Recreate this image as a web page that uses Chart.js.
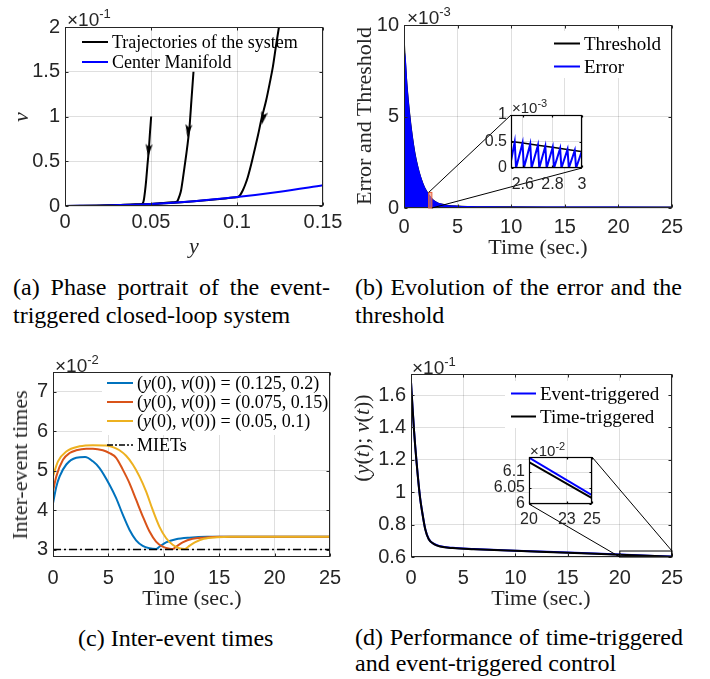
<!DOCTYPE html>
<html>
<head>
<meta charset="utf-8">
<title>Event-triggered control figures</title>
<script src="https://cdn.jsdelivr.net/npm/chart.js@4.4.1/dist/chart.umd.min.js"></script>
<style>
  html, body { margin: 0; padding: 0; background: #fff; }
  body { position: relative; width: 710px; height: 679px; overflow: hidden; }
  canvas { position: absolute; }
  .inset { z-index: 2; }
  .t { position: absolute; white-space: nowrap; font-family: "Liberation Serif", serif; color: #262626; font-size: 22px; line-height: 1; transform: translate(-50%, -50%); z-index: 4; }
  .t.rot { transform: translate(-50%, -50%) rotate(-90deg); }
  .exp { position: absolute; white-space: nowrap; font-family: "Liberation Sans", sans-serif; color: #262626; font-size: 19px; line-height: 1; transform: translateY(-50%); z-index: 4; }
  .exp sup { font-size: 13px; vertical-align: 8px; }
  .exp.small { font-size: 15px; }
  .exp.small sup { font-size: 11px; vertical-align: 6px; }
  .legbox { position: absolute; background: #fff; z-index: 3; }
  .row { position: absolute; display: flex; align-items: center; white-space: nowrap; font-family: "Liberation Serif", serif; font-size: 19px; line-height: 1; color: #000; transform: translateY(-50%); z-index: 4; }
  .row svg { margin-right: 2px; }
  .cap { position: absolute; white-space: nowrap; font-family: "Liberation Serif", serif; font-size: 24px; line-height: 1; color: #000; transform: translateY(-50%); }
  .just { text-align: justify; text-align-last: justify; white-space: normal; }
</style>
</head>
<body>
<canvas id="cA"></canvas>
<canvas id="cB"></canvas>
<canvas id="cC"></canvas>
<canvas id="cD"></canvas>
<canvas id="cIB" class="inset"></canvas>
<canvas id="cID" class="inset"></canvas>

<!-- (a) -->
<div class="exp" style="left:67px;top:18px">&times;10<sup>-1</sup></div>
<div class="t rot" style="left:21px;top:117px"><i>v</i></div>
<div class="t" style="left:194px;top:246px"><i>y</i></div>
<div class="row" style="left:82px;top:42px;font-size:18px"><svg width="28" height="6"><line x1="0" y1="3" x2="26" y2="3" stroke="#000" stroke-width="2"/></svg>Trajectories of the system</div>
<div class="row" style="left:82px;top:62px;font-size:18px"><svg width="28" height="6"><line x1="0" y1="3" x2="26" y2="3" stroke="#0000ff" stroke-width="2"/></svg>Center Manifold</div>
<div class="cap just" style="left:13px;top:287px;width:317px">(a) Phase portrait of the event-</div>
<div class="cap" style="left:13px;top:315px">triggered closed-loop system</div>

<!-- (b) -->
<div class="exp" style="left:407px;top:16px">&times;10<sup>-3</sup></div>
<div class="t rot" style="left:364px;top:116px">Error and Threshold</div>
<div class="t" style="left:538px;top:247px">Time (sec.)</div>
<div class="exp small" style="left:512px;top:106px">&times;10<sup>-3</sup></div>
<div class="legbox" style="left:547px;top:31px;width:121px;height:47px"></div>
<div class="row" style="left:554px;top:43px"><svg width="28" height="6"><line x1="0" y1="3" x2="26" y2="3" stroke="#000" stroke-width="2"/></svg>Threshold</div>
<div class="row" style="left:554px;top:66px"><svg width="28" height="6"><line x1="0" y1="3" x2="26" y2="3" stroke="#0000ff" stroke-width="2"/></svg>Error</div>
<div class="cap just" style="left:355px;top:287px;width:327px">(b) Evolution of the error and the</div>
<div class="cap" style="left:355px;top:315px">threshold</div>

<!-- (c) -->
<div class="exp" style="left:55px;top:364px">&times;10<sup>-2</sup></div>
<div class="t rot" style="left:20px;top:465px">Inter-event times</div>
<div class="t" style="left:192px;top:598px">Time (sec.)</div>
<div class="legbox" style="left:102px;top:373px;width:227px;height:62px"></div>
<div class="row" style="left:107px;top:383px;font-size:18px"><svg width="28" height="6"><line x1="0" y1="3" x2="26" y2="3" stroke="#0072BD" stroke-width="2"/></svg>(<i>y</i>(0),&nbsp;<i>v</i>(0)) = (0.125,&nbsp;0.2)</div>
<div class="row" style="left:107px;top:402px;font-size:18px"><svg width="28" height="6"><line x1="0" y1="3" x2="26" y2="3" stroke="#D95319" stroke-width="2"/></svg>(<i>y</i>(0),&nbsp;<i>v</i>(0)) = (0.075,&nbsp;0.15)</div>
<div class="row" style="left:107px;top:421px;font-size:18px"><svg width="28" height="6"><line x1="0" y1="3" x2="26" y2="3" stroke="#EDB120" stroke-width="2"/></svg>(<i>y</i>(0),&nbsp;<i>v</i>(0)) = (0.05,&nbsp;0.1)</div>
<div class="row" style="left:107px;top:445px;font-size:18px"><svg width="28" height="6"><line x1="0" y1="3" x2="26" y2="3" stroke="#000" stroke-width="1.5" stroke-dasharray="6,2,2,2"/></svg>MIETs</div>
<div class="cap" style="left:78px;top:638px">(c) Inter-event times</div>

<!-- (d) -->
<div class="exp" style="left:412px;top:366px">&times;10<sup>-1</sup></div>
<div class="t rot" style="left:362px;top:438px">(<i>y</i>(<i>t</i>);&nbsp;<i>v</i>(<i>t</i>))</div>
<div class="t" style="left:541px;top:598px">Time (sec.)</div>
<div class="exp small" style="left:530px;top:449px">&times;10<sup>-2</sup></div>
<div class="legbox" style="left:505px;top:381px;width:163px;height:47px"></div>
<div class="row" style="left:511px;top:393px"><svg width="27" height="6"><line x1="0" y1="3" x2="25" y2="3" stroke="#0000ff" stroke-width="2"/></svg>Event-triggered</div>
<div class="row" style="left:511px;top:416px"><svg width="27" height="6"><line x1="0" y1="3" x2="25" y2="3" stroke="#000" stroke-width="2"/></svg>Time-triggered</div>
<div class="cap just" style="left:355px;top:637px;width:328px">(d) Performance of time-triggered</div>
<div class="cap" style="left:355px;top:663px">and event-triggered control</div>

<script>
// ---------------- data ----------------
// (a) phase portrait (v axis shown in units of 1e-1)
const manifoldY = [0, 0.025, 0.05, 0.075, 0.1, 0.125, 0.15];
const manifoldV = [0, 0.006, 0.022, 0.053, 0.1, 0.16, 0.232];
const traj1Y = [0.0501, 0.0494, 0.0487, 0.0479, 0.0472, 0.0465, 0.0458, 0.0452, 0.0442, 0.04, 0.03, 0.02, 0.01, 0];
const traj1V = [1.0, 0.82, 0.62, 0.45, 0.29, 0.16, 0.064, 0.03, 0.021, 0.017, 0.009, 0.004, 0.001, 0];
const traj2Y = [0.0747, 0.0735, 0.0724, 0.071, 0.0695, 0.0685, 0.0675, 0.0665, 0.0656, 0.065, 0.063, 0.06, 0.055, 0.05, 0.04, 0.02, 0];
const traj2V = [1.5, 1.18, 0.886, 0.65, 0.437, 0.3, 0.176, 0.11, 0.064, 0.048, 0.042, 0.038, 0.03, 0.023, 0.015, 0.004, 0];
const traj3Y = [0.1244, 0.1226, 0.1209, 0.119, 0.117, 0.1141, 0.1122, 0.1102, 0.1083, 0.1063, 0.1048, 0.1034, 0.1019, 0.1005, 0.098, 0.09, 0.075, 0.05, 0.025, 0];
const traj3V = [2.0, 1.78, 1.56, 1.37, 1.185, 0.961, 0.79, 0.624, 0.47, 0.325, 0.24, 0.176, 0.125, 0.1, 0.094, 0.078, 0.053, 0.022, 0.006, 0];
const arrowY = [0.0486, 0.0716, 0.1152];
const arrowV = [0.62, 0.84, 0.98];
const ticksAx = [0, 0.05, 0.1, 0.15];
const ticksAy = [0, 0.5, 1, 1.5, 2];

// (b) error and threshold (units of 1e-3)
const timeB = [0, 0.05, 0.25, 0.5, 0.75, 1, 1.25, 1.5, 1.75, 2, 2.5, 3, 3.5, 4, 5, 6, 8, 10, 15, 20, 25];
const thresholdB = [9.2, 8.6, 6.8, 5.2, 3.95, 3.0, 2.3, 1.75, 1.33, 1.0, 0.55, 0.31, 0.2, 0.14, 0.09, 0.07, 0.055, 0.05, 0.045, 0.04, 0.035];
const errorPeakB = [8.5, 8.5, 6.7, 5.1, 3.9, 2.95, 2.27, 1.73, 1.31, 0.99, 0.54, 0.3, 0.19, 0.13, 0.085, 0.065, 0.05, 0.045, 0.04, 0.035, 0.03];
const zoomBoxB = [2.3, 2.6, 0, 0.85];
const ticksBx = [0, 5, 10, 15, 20, 25];
const ticksBy = [0, 5, 10];
// (b) inset
const insetTimeB = [2.52, 2.6, 2.7, 2.8, 2.9, 3.0];
const insetThresholdB = [0.5, 0.47, 0.43, 0.39, 0.35, 0.31];
const insetErrT = [2.52, 2.545, 2.554, 2.598, 2.607, 2.65, 2.659, 2.702, 2.711, 2.752, 2.761, 2.802, 2.811, 2.852, 2.861, 2.902, 2.911, 2.951, 2.96, 2.998];
const insetErrV = [0.13, 0.49, 0, 0.47, 0, 0.45, 0, 0.43, 0, 0.41, 0, 0.39, 0, 0.37, 0, 0.35, 0, 0.33, 0, 0.31];
const ticksIBx = [2.6, 2.8, 3];
const ticksIBy = [0, 0.5, 1];

// (c) inter-event times (units of 1e-2)
const timeC1 = [0, 0.3, 0.6, 1.2, 2.1, 2.9, 3.6, 4.2, 5.1, 5.7, 6.3, 6.9, 7.5, 8.1, 8.7, 9.3, 9.6, 10.2, 11.1, 12.3, 13.9, 25];
const iet1 = [4.18, 4.6, 4.86, 5.16, 5.33, 5.35, 5.24, 5.07, 4.65, 4.31, 3.89, 3.51, 3.24, 3.1, 3.04, 3.02, 3.08, 3.19, 3.27, 3.31, 3.33, 3.33];
const timeC2 = [0, 0.3, 0.9, 1.5, 2.1, 3.0, 3.6, 4.5, 5.1, 5.7, 6.3, 6.9, 7.5, 8.1, 8.7, 9.3, 9.9, 10.5, 10.8, 11.1, 11.7, 12.6, 13.6, 15, 25];
const iet2 = [4.48, 4.86, 5.28, 5.45, 5.52, 5.56, 5.56, 5.52, 5.45, 5.33, 5.03, 4.69, 4.27, 3.85, 3.47, 3.21, 3.08, 3.03, 3.02, 3.08, 3.19, 3.28, 3.31, 3.33, 3.33];
const timeC3 = [0, 0.45, 1.2, 2.4, 3.6, 4.8, 5.4, 6.0, 6.6, 7.2, 7.8, 8.4, 9.0, 9.6, 10.2, 10.8, 11.4, 11.9, 12.2, 12.8, 13.6, 14.8, 16, 25];
const iet3 = [4.86, 5.24, 5.49, 5.62, 5.65, 5.64, 5.6, 5.52, 5.38, 5.16, 4.86, 4.48, 4.01, 3.59, 3.3, 3.13, 3.04, 3.02, 3.08, 3.19, 3.28, 3.32, 3.33, 3.33];
const mietT = [0, 25];
const mietV = [3.01, 3.01];
const ticksCx = [0, 5, 10, 15, 20, 25];
const ticksCy = [3, 4, 5, 6, 7];

// (d) performance (units of 1e-1)
const timeD = [0, 0.15, 0.29, 0.54, 0.86, 1.09, 1.37, 1.7, 2.2, 2.8, 4, 6, 10, 15, 20, 25];
const eventTrigD = [1.68, 1.521, 1.381, 1.181, 0.971, 0.871, 0.771, 0.711, 0.681, 0.6665, 0.6565, 0.6495, 0.6393, 0.6283, 0.6147, 0.603];
const timeTrigD = [1.68, 1.52, 1.38, 1.18, 0.97, 0.87, 0.77, 0.71, 0.68, 0.665, 0.655, 0.648, 0.638, 0.627, 0.6135, 0.6018];
const zoomBoxD = [20, 25, 0.6, 0.637];
const ticksDx = [0, 5, 10, 15, 20, 25];
const ticksDy = [0.6, 0.8, 1, 1.2, 1.4, 1.6];
// (d) inset (units of 1e-2)
const insetTimeD = [20, 25];
const insetEventD = [6.145, 6.028];
const insetTimeTrigD = [6.131, 6.018];
const ticksIDx = [20, 23, 25];
const ticksIDy = [6, 6.05, 6.1];

// ---------------- helpers ----------------
const INK = '#262626';
const GRID = 'rgba(38,38,38,0.15)';
const POS = {
  A: [0, 0, 345, 258], B: [345, 0, 365, 258],
  C: [0, 330, 345, 290], D: [345, 330, 365, 290],
  IB: [470, 95, 130, 105], ID: [480, 440, 130, 95]
};

function place(id, p) {
  const c = document.getElementById(id);
  c.width = p[2]; c.height = p[3];
  c.style.left = p[0] + 'px'; c.style.top = p[1] + 'px';
  c.style.width = p[2] + 'px'; c.style.height = p[3] + 'px';
  return c;
}

function axis(min, max, ticks, size, horizontal, fontSize, pad) {
  return {
    type: 'linear', min: min, max: max,
    afterBuildTicks: s => { s.ticks = ticks.map(v => ({ value: v })); },
    afterFit: s => {
      if (horizontal) s.height = size; else s.width = size;
      s.paddingLeft = 0; s.paddingRight = 0; s.paddingTop = 0; s.paddingBottom = 0;
    },
    ticks: {
      color: INK, padding: pad, maxRotation: 0, autoSkip: false,
      font: { family: 'Liberation Sans', size: fontSize },
      callback: v => String(v)
    },
    grid: { color: GRID, lineWidth: 1, drawTicks: false },
    border: { display: false }
  };
}

function series(xs, ys, color, width, extra) {
  return Object.assign({
    data: xs.map((x, i) => ({ x: x, y: ys[i] })),
    borderColor: color, backgroundColor: color, borderWidth: width,
    pointRadius: 0, fill: false
  }, extra || {});
}

// MATLAB-like box with inward ticks on all four sides
const boxPlugin = {
  id: 'matlabBox',
  afterDatasetsDraw(chart, args, opts) {
    const { ctx, chartArea: a } = chart;
    const xs = chart.scales.x, ys = chart.scales.y;
    const L = opts.len;
    const l = Math.round(a.left) + 0.5, r = Math.round(a.right) - 0.5;
    const t = Math.round(a.top) + 0.5, b = Math.round(a.bottom) - 0.5;
    ctx.save();
    ctx.strokeStyle = opts.color;
    ctx.lineWidth = opts.width;
    ctx.beginPath();
    xs.ticks.forEach(tk => {
      const p = Math.round(xs.getPixelForValue(tk.value)) + 0.5;
      ctx.moveTo(p, b); ctx.lineTo(p, b - L);
      ctx.moveTo(p, t); ctx.lineTo(p, t + L);
    });
    ys.ticks.forEach(tk => {
      const p = Math.round(ys.getPixelForValue(tk.value)) + 0.5;
      ctx.moveTo(l, p); ctx.lineTo(l + L, p);
      ctx.moveTo(r, p); ctx.lineTo(r - L, p);
    });
    ctx.stroke();
    ctx.strokeRect(l, t, r - l, b - t);
    ctx.restore();
  }
};

const whiteArea = {
  id: 'whiteArea',
  beforeDraw(chart) {
    const { ctx, chartArea: a } = chart;
    ctx.save();
    ctx.fillStyle = '#fff';
    ctx.fillRect(a.left, a.top, a.width, a.height);
    ctx.restore();
  }
};

function options(pad, xs, ys, box) {
  return {
    responsive: false, animation: false, events: [],
    layout: { padding: pad },
    plugins: { legend: { display: false }, tooltip: { enabled: false }, matlabBox: box },
    scales: { x: xs, y: ys }
  };
}

// little arrowhead used on the trajectories
const arrowImg = document.createElement('canvas');
arrowImg.width = 7; arrowImg.height = 13;
(function () {
  const g = arrowImg.getContext('2d');
  g.fillStyle = '#000';
  g.beginPath();
  g.moveTo(0, 0); g.lineTo(3.5, 13); g.lineTo(7, 0); g.lineTo(3.5, 3);
  g.closePath(); g.fill();
})();

// ---------------- insets (drawn first so the zoom links can use them) ----------------
const insetB = new Chart(place('cIB', POS.IB), {
  type: 'line',
  data: { datasets: [
    series(insetErrT, insetErrV, '#0000ff', 2, { order: 0 }),
    series(insetTimeB, insetThresholdB, '#000', 1.5, { order: 1, cubicInterpolationMode: 'monotone' })
  ] },
  options: options({ top: 20, right: 18, left: 0, bottom: 0 },
    axis(2.52, 3.0, ticksIBx, 32, true, 16, 7),
    axis(0, 1, ticksIBy, 41, false, 16, 4),
    { len: 2, color: '#000', width: 1.2 }),
  plugins: [whiteArea, boxPlugin]
});

const insetD = new Chart(place('cID', POS.ID), {
  type: 'line',
  data: { datasets: [
    series(insetTimeD, insetTimeTrigD, '#000', 2, { order: 0 }),
    series(insetTimeD, insetEventD, '#0000ff', 2, { order: 1 })
  ] },
  options: options({ top: 17, right: 18, left: 0, bottom: 0 },
    axis(20, 25, ticksIDx, 31, true, 16, 6),
    axis(6, 6.147, ticksIDy, 49, false, 16, 4),
    { len: 2, color: '#000', width: 1.2 }),
  plugins: [whiteArea, boxPlugin]
});

// ---------------- (a) ----------------
new Chart(place('cA', POS.A), {
  type: 'line',
  data: { datasets: [
    series(manifoldY, manifoldV, '#0000ff', 2, { order: 0, cubicInterpolationMode: 'monotone' }),
    series(traj1Y, traj1V, '#000', 2, { order: 1, cubicInterpolationMode: 'monotone' }),
    series(traj2Y, traj2V, '#000', 2, { order: 1, cubicInterpolationMode: 'monotone' }),
    series(traj3Y, traj3V, '#000', 2, { order: 1, cubicInterpolationMode: 'monotone' }),
    series(arrowY, arrowV, '#000', 0, { order: -1, showLine: false, pointRadius: 5,
      pointStyle: arrowImg, rotation: [5, 7, 12] })
  ] },
  options: options({ top: 27, right: 22, left: 0, bottom: 0 },
    axis(0, 0.15, ticksAx, 52, true, 20, 4),
    axis(0, 2, ticksAy, 65, false, 20, 5),
    { len: 3, color: INK, width: 1 }),
  plugins: [boxPlugin]
});

// ---------------- (b) ----------------
new Chart(place('cB', POS.B), {
  type: 'line',
  data: { datasets: [
    series(timeB, errorPeakB, '#0000ff', 1.5, { order: 0, fill: 'origin', cubicInterpolationMode: 'monotone' }),
    series(timeB, thresholdB, '#000', 1.5, { order: 1, cubicInterpolationMode: 'monotone' })
  ] },
  options: options({ top: 25, right: 38, left: 0, bottom: 0 },
    axis(0, 25, ticksBx, 50, true, 20, 7),
    axis(0, 10, ticksBy, 59, false, 20, 5),
    { len: 3, color: INK, width: 1 }),
  plugins: [boxPlugin, {
    id: 'zoomB',
    afterDatasetsDraw(chart) {
      const { ctx, scales: { x, y } } = chart;
      const x0 = x.getPixelForValue(zoomBoxB[0]), x1 = x.getPixelForValue(zoomBoxB[1]);
      const y0 = y.getPixelForValue(zoomBoxB[2]), y1 = y.getPixelForValue(zoomBoxB[3]);
      const ia = insetB.chartArea;
      const dx = POS.IB[0] - POS.B[0], dy = POS.IB[1] - POS.B[1];
      ctx.save();
      ctx.fillStyle = 'rgba(240,140,110,0.6)';
      ctx.fillRect(x0, y1, x1 - x0, y0 - y1);
      ctx.strokeStyle = '#e8603c'; ctx.lineWidth = 1;
      ctx.strokeRect(x0, y1, x1 - x0, y0 - y1);
      ctx.strokeStyle = '#000';
      ctx.beginPath();
      ctx.moveTo(x0, y1); ctx.lineTo(ia.left + dx, ia.top + dy);
      ctx.moveTo(x1, y0); ctx.lineTo(ia.right + dx, ia.bottom + dy);
      ctx.stroke();
      ctx.restore();
    }
  }]
});

// ---------------- (c) ----------------
new Chart(place('cC', POS.C), {
  type: 'line',
  data: { datasets: [
    series(mietT, mietV, '#000', 1.5, { order: 0, borderDash: [8, 3, 2, 3] }),
    series(timeC3, iet3, '#EDB120', 2, { order: 1, cubicInterpolationMode: 'monotone' }),
    series(timeC2, iet2, '#D95319', 2, { order: 2, cubicInterpolationMode: 'monotone' }),
    series(timeC1, iet1, '#0072BD', 2, { order: 3, cubicInterpolationMode: 'monotone' })
  ] },
  options: options({ top: 42, right: 15, left: 0, bottom: 0 },
    axis(0, 25, ticksCx, 63, true, 20, 9),
    axis(2.82, 7.5, ticksCy, 53, false, 20, 5),
    { len: 3, color: INK, width: 1 }),
  plugins: [boxPlugin]
});

// ---------------- (d) ----------------
new Chart(place('cD', POS.D), {
  type: 'line',
  data: { datasets: [
    series(timeD, timeTrigD, '#000', 2, { order: 0, cubicInterpolationMode: 'monotone' }),
    series(timeD, eventTrigD, '#0000ff', 2, { order: 1, cubicInterpolationMode: 'monotone' })
  ] },
  options: options({ top: 44, right: 38, left: 0, bottom: 0 },
    axis(0, 25, ticksDx, 63, true, 20, 9),
    axis(0.6, 1.73, ticksDy, 66, false, 20, 5),
    { len: 3, color: INK, width: 1 }),
  plugins: [boxPlugin, {
    id: 'zoomD',
    afterDatasetsDraw(chart) {
      const { ctx, scales: { x, y } } = chart;
      const x0 = x.getPixelForValue(zoomBoxD[0]), x1 = x.getPixelForValue(zoomBoxD[1]);
      const y0 = y.getPixelForValue(zoomBoxD[2]), y1 = y.getPixelForValue(zoomBoxD[3]);
      const ia = insetD.chartArea;
      const dx = POS.ID[0] - POS.D[0], dy = POS.ID[1] - POS.D[1];
      ctx.save();
      ctx.strokeStyle = '#000'; ctx.lineWidth = 1;
      ctx.strokeRect(x0, y1, x1 - x0, y0 - y1);
      ctx.beginPath();
      ctx.moveTo(x1, y1); ctx.lineTo(ia.right + dx, ia.top + dy);
      ctx.moveTo(x0, y0); ctx.lineTo(ia.left + dx, ia.bottom + dy);
      ctx.stroke();
      ctx.restore();
    }
  }]
});
</script>
</body>
</html>
